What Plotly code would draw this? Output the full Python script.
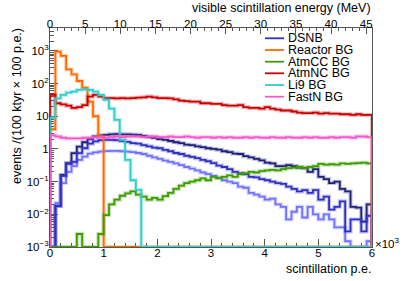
import plotly.graph_objects as go

# ---------------- data (100 p.e. bins, 0 .. 6000 p.e.) ----------------
bin_edges = list(range(0, 6001, 100))

dsnb = [0, 0.018, 0.15, 0.35, 0.40, 0.74, 1.05, 1.45, 1.7, 1.85,
        1.9, 1.9, 1.85, 1.75, 1.65, 1.5, 1.45, 1.3, 1.2, 1.1,
        1.05, 0.93, 0.85, 0.75, 0.7, 0.62, 0.57, 0.52, 0.46, 0.42,
        0.37, 0.31, 0.28, 0.24, 0.2, 0.18, 0.17, 0.14, 0.135, 0.12,
        0.11, 0.1, 0.09, 0.085, 0.07, 0.06, 0.05, 0.055, 0.045, 0.055,
        0.028, 0.035, 0.014, 0.017, 0.025, 0.003, 0.007, 0.007, 0.003, 0.009]

dsnb_high = [0, 0.018, 0.16, 0.37, 0.74, 1.17, 1.6, 2.0, 2.4, 2.6,
             2.7, 2.8, 2.85, 2.8, 2.8, 2.75, 2.7, 2.5, 2.3, 2.2,
             2.0, 1.9, 1.75, 1.6, 1.5, 1.35, 1.3, 1.2, 1.13, 1.05,
             1.0, 0.95, 0.85, 0.8, 0.72, 0.7, 0.6, 0.55, 0.5, 0.45,
             0.38, 0.36, 0.3, 0.3, 0.32, 0.3, 0.27, 0.26, 0.2, 0.24,
             0.14, 0.12, 0.09, 0.1, 0.06, 0.05, 0.017, 0.016, 0.006, 0.02]

dsnb_low = [0, 0.022, 0.09, 0.2, 0.3, 0.46, 0.58, 0.72, 0.78, 0.83,
            0.86, 0.87, 0.87, 0.85, 0.83, 0.8, 0.75, 0.7, 0.62, 0.55,
            0.5, 0.44, 0.4, 0.36, 0.32, 0.28, 0.25, 0.22, 0.19, 0.17,
            0.15, 0.13, 0.11, 0.1, 0.09, 0.07, 0.065, 0.045, 0.04, 0.035,
            0.028, 0.03, 0.02, 0.017, 0.007, 0.012, 0.017, 0.008, 0.017, 0.01,
            0.007, 0.01, 0.007, 0.004, 0.004, 0.0015, 0, 0, 0, 0.0015]

reactor = [4, 950, 700, 270, 190, 120, 75, 28, 10, 2.4,
           0, 0, 0, 0, 0, 0, 0, 0, 0, 0,
           0, 0, 0, 0, 0, 0, 0, 0, 0, 0,
           0, 0, 0, 0, 0, 0, 0, 0, 0, 0,
           0, 0, 0, 0, 0, 0, 0, 0, 0, 0,
           0, 0, 0, 0, 0, 0, 0, 0, 0, 0]

atmcc = [0, 0, 0, 0, 0, 0.0025, 0, 0, 0, 0.0025,
         0.0095, 0.02, 0.028, 0.037, 0.044, 0.05, 0.04, 0.035, 0.028, 0.032,
         0.028, 0.036, 0.045, 0.06, 0.075, 0.09, 0.1, 0.11, 0.125, 0.11,
         0.14, 0.13, 0.14, 0.155, 0.14, 0.17, 0.18, 0.2, 0.19, 0.21,
         0.22, 0.23, 0.22, 0.24, 0.26, 0.27, 0.28, 0.26, 0.28, 0.3,
         0.35, 0.33, 0.34, 0.33, 0.36, 0.35, 0.36, 0.37, 0.38, 0.36]

atmnc = [45, 25, 23, 21, 18, 19, 22, 40, 45, 40,
         36, 36, 35, 36, 35, 36, 37, 38, 40, 38,
         36, 36, 35, 33, 30, 29, 28, 28, 25, 25,
         24, 24, 22, 21, 21, 22, 19, 18, 18, 17,
         19, 17, 16, 15, 15, 14, 13, 12.5, 12.5, 13,
         12, 12.5, 12, 12, 11.5, 11.5, 11, 11.5, 11, 11]

li9 = [9, 35, 45, 53, 57, 64, 67, 64, 57, 45,
       32, 17, 7.7, 1.9, 0.46, 0.11, 0.056, 0, 0, 0,
       0, 0, 0, 0, 0, 0, 0, 0, 0, 0,
       0, 0, 0, 0, 0, 0, 0, 0, 0, 0,
       0, 0, 0, 0, 0, 0, 0, 0, 0, 0,
       0, 0, 0, 0, 0, 0, 0, 0, 0, 0]

fastn = [2.6, 2.4, 2.2, 2.1, 2.1, 2.1, 2.2, 2.2, 2.3, 2.3,
         2.2, 2.3, 2.4, 2.3, 2.4, 2.4, 2.4, 2.3, 2.4, 2.4,
         2.3, 2.3, 2.4, 2.3, 2.3, 2.4, 2.3, 2.2, 2.3, 2.3,
         2.2, 2.3, 2.2, 2.3, 2.2, 2.2, 2.3, 2.2, 2.3, 2.2,
         2.2, 2.3, 2.2, 2.2, 2.3, 2.2, 2.2, 2.3, 2.2, 2.3,
         2.2, 2.2, 2.3, 2.2, 2.3, 2.3, 2.2, 2.4, 2.4, 2.3]

legend_names = ["DSNB", "Reactor BG", "AtmCC BG", "AtmNC BG", "Li9 BG", "FastN BG"]
y_tickvals = [1e-3, 1e-2, 1e-1, 1, 10, 100, 1000]
y_ticktext = ["10<sup>\u22123</sup>", "10<sup>\u22122</sup>", "10<sup>\u22121</sup>",
              "1", "10", "10<sup>2</sup>", "10<sup>3</sup>"]
x_tickvals = [0, 1000, 2000, 3000, 4000, 5000, 6000]
x_ticktext = ["0", "1", "2", "3", "4", "5", "6"]
mev_ticks = [0, 5, 10, 15, 20, 25, 30, 35, 40, 45]
pe_per_mev = 130.9

# ---------------- styling ----------------
colors = {
    "dsnb_high": "#20207a",
    "dsnb_low": "#7272ff",
    "DSNB": "#3030c4",
    "Reactor BG": "#ff6a00",
    "AtmCC BG": "#3c9c00",
    "AtmNC BG": "#cc0000",
    "Li9 BG": "#33cccc",
    "FastN BG": "#ff55cc",
}
FLOOR = 1e-3
FONT = "Liberation Sans, Arial, Helvetica, sans-serif"

W, H = 415, 281
L, R, T, B = 50, 372, 28, 247


def px_x(p):
    return (p - L) / (R - L)


def px_y(p):
    return (B - p) / (B - T)


def hist_xy(vals):
    v = [val if val > 0 else FLOOR for val in vals]
    xs = [bin_edges[0]] + bin_edges[:-1] + [bin_edges[-1], bin_edges[-1]]
    ys = [FLOOR] + v + [v[-1], FLOOR]
    return xs, ys


fig = go.Figure()

series = [
    ("dsnb_high", dsnb_high),
    ("dsnb_low", dsnb_low),
    ("DSNB", dsnb),
    ("Reactor BG", reactor),
    ("AtmCC BG", atmcc),
    ("AtmNC BG", atmnc),
    ("Li9 BG", li9),
    ("FastN BG", fastn),
]
for name, vals in series:
    xs, ys = hist_xy(vals)
    fig.add_trace(go.Scatter(x=xs, y=ys, mode="lines", line_shape="hv",
                             line=dict(color=colors[name], width=4),
                             opacity=0.28, hoverinfo="skip", showlegend=False))
    fig.add_trace(go.Scatter(x=xs, y=ys, mode="lines", line_shape="hv",
                             line=dict(color=colors[name], width=1.8),
                             name=name, showlegend=False))

# top axis carrier
fig.add_trace(go.Scatter(x=[], y=[], xaxis="x2", showlegend=False, hoverinfo="skip"))

y_minor = [m * 10 ** e for e in range(-3, 4) for m in range(2, 10) if m * 10 ** e < 5200]
x_minor = [v for v in range(0, 6001, 200) if v % 1000 != 0]
mev_minor = [v for v in range(0, 46) if v % 5 != 0]

axis_line = "#555555"
fig.update_layout(
    width=W, height=H,
    margin=dict(l=L, r=W - R, t=T, b=H - B, autoexpand=False),
    paper_bgcolor="white", plot_bgcolor="white",
    showlegend=False,
    font=dict(family=FONT, size=11, color="black"),
    xaxis=dict(range=[0, 6000], tickvals=x_tickvals, ticktext=x_ticktext,
               ticks="inside", ticklen=8, tickcolor=axis_line, tickwidth=1,
               minor=dict(tickvals=x_minor, ticklen=4, ticks="inside", tickcolor=axis_line),
               showgrid=False, zeroline=False, showline=True, linecolor=axis_line,
               linewidth=1, mirror=True, layer="below traces", automargin=False,
               ticklabelstandoff=-5,
               tickfont=dict(size=11.5, family=FONT)),
    xaxis2=dict(range=[0, 6000 / pe_per_mev], overlaying="x", side="top", anchor="y",
                tickvals=mev_ticks, ticks="inside", ticklen=6, tickcolor=axis_line,
                minor=dict(tickvals=mev_minor, ticklen=3, ticks="inside", tickcolor=axis_line),
                showgrid=False, zeroline=False, showline=True, linecolor=axis_line,
                linewidth=1, layer="below traces", automargin=False,
                ticklabelstandoff=-6,
                tickfont=dict(size=11.5, family=FONT)),
    yaxis=dict(type="log", range=[-3, 3.7], tickvals=y_tickvals, ticktext=y_ticktext,
               ticks="inside", ticklen=8, tickcolor=axis_line,
               minor=dict(tickvals=y_minor, ticklen=4, ticks="inside", tickcolor=axis_line),
               showgrid=False, zeroline=False, showline=True, linecolor=axis_line,
               linewidth=1, mirror=True, layer="below traces", automargin=False,
               ticklabelstandoff=-2,
               tickfont=dict(size=11.5, family=FONT)),
)

ann = []
shapes = []
leg_y = [38.3, 50.0, 61.7, 73.3, 85.0, 96.7]
for name, yy in zip(legend_names, leg_y):
    shapes.append(dict(type="line", xref="paper", yref="paper",
                       x0=px_x(265), x1=px_x(284), y0=px_y(yy), y1=px_y(yy),
                       line=dict(color=colors[name], width=1.8)))
    ann.append(dict(text=name, xref="paper", yref="paper", x=px_x(286), y=px_y(yy),
                    xanchor="left", yanchor="middle", showarrow=False,
                    font=dict(size=12.5, family=FONT, color="black")))

ann.append(dict(text="scintillation p.e.", xref="paper", yref="paper",
                x=px_x(373), y=px_y(269), xanchor="right", yanchor="middle",
                showarrow=False, font=dict(size=12.5, family=FONT)))
ann.append(dict(text="visible scintillation energy (MeV)", xref="paper", yref="paper",
                x=px_x(373), y=px_y(8), xanchor="right", yanchor="middle",
                showarrow=False, font=dict(size=12.5, family=FONT)))
ann.append(dict(text="\u00d710<sup>3</sup>", xref="paper", yref="paper",
                x=px_x(373), y=px_y(243), xanchor="left", yanchor="middle",
                showarrow=False, font=dict(size=11.5, family=FONT)))
ann.append(dict(text="events /(100 ktyr \u00d7 100 p.e.)", xref="paper", yref="paper",
                x=px_x(17), y=px_y(106), xanchor="center", yanchor="middle",
                textangle=-90, showarrow=False, font=dict(size=12.5, family=FONT)))

fig.update_layout(annotations=ann, shapes=shapes)
fig.write_html("out.html", config={"displayModeBar": False},
               post_script="document.body.style.margin='0';document.body.style.padding='0';")
